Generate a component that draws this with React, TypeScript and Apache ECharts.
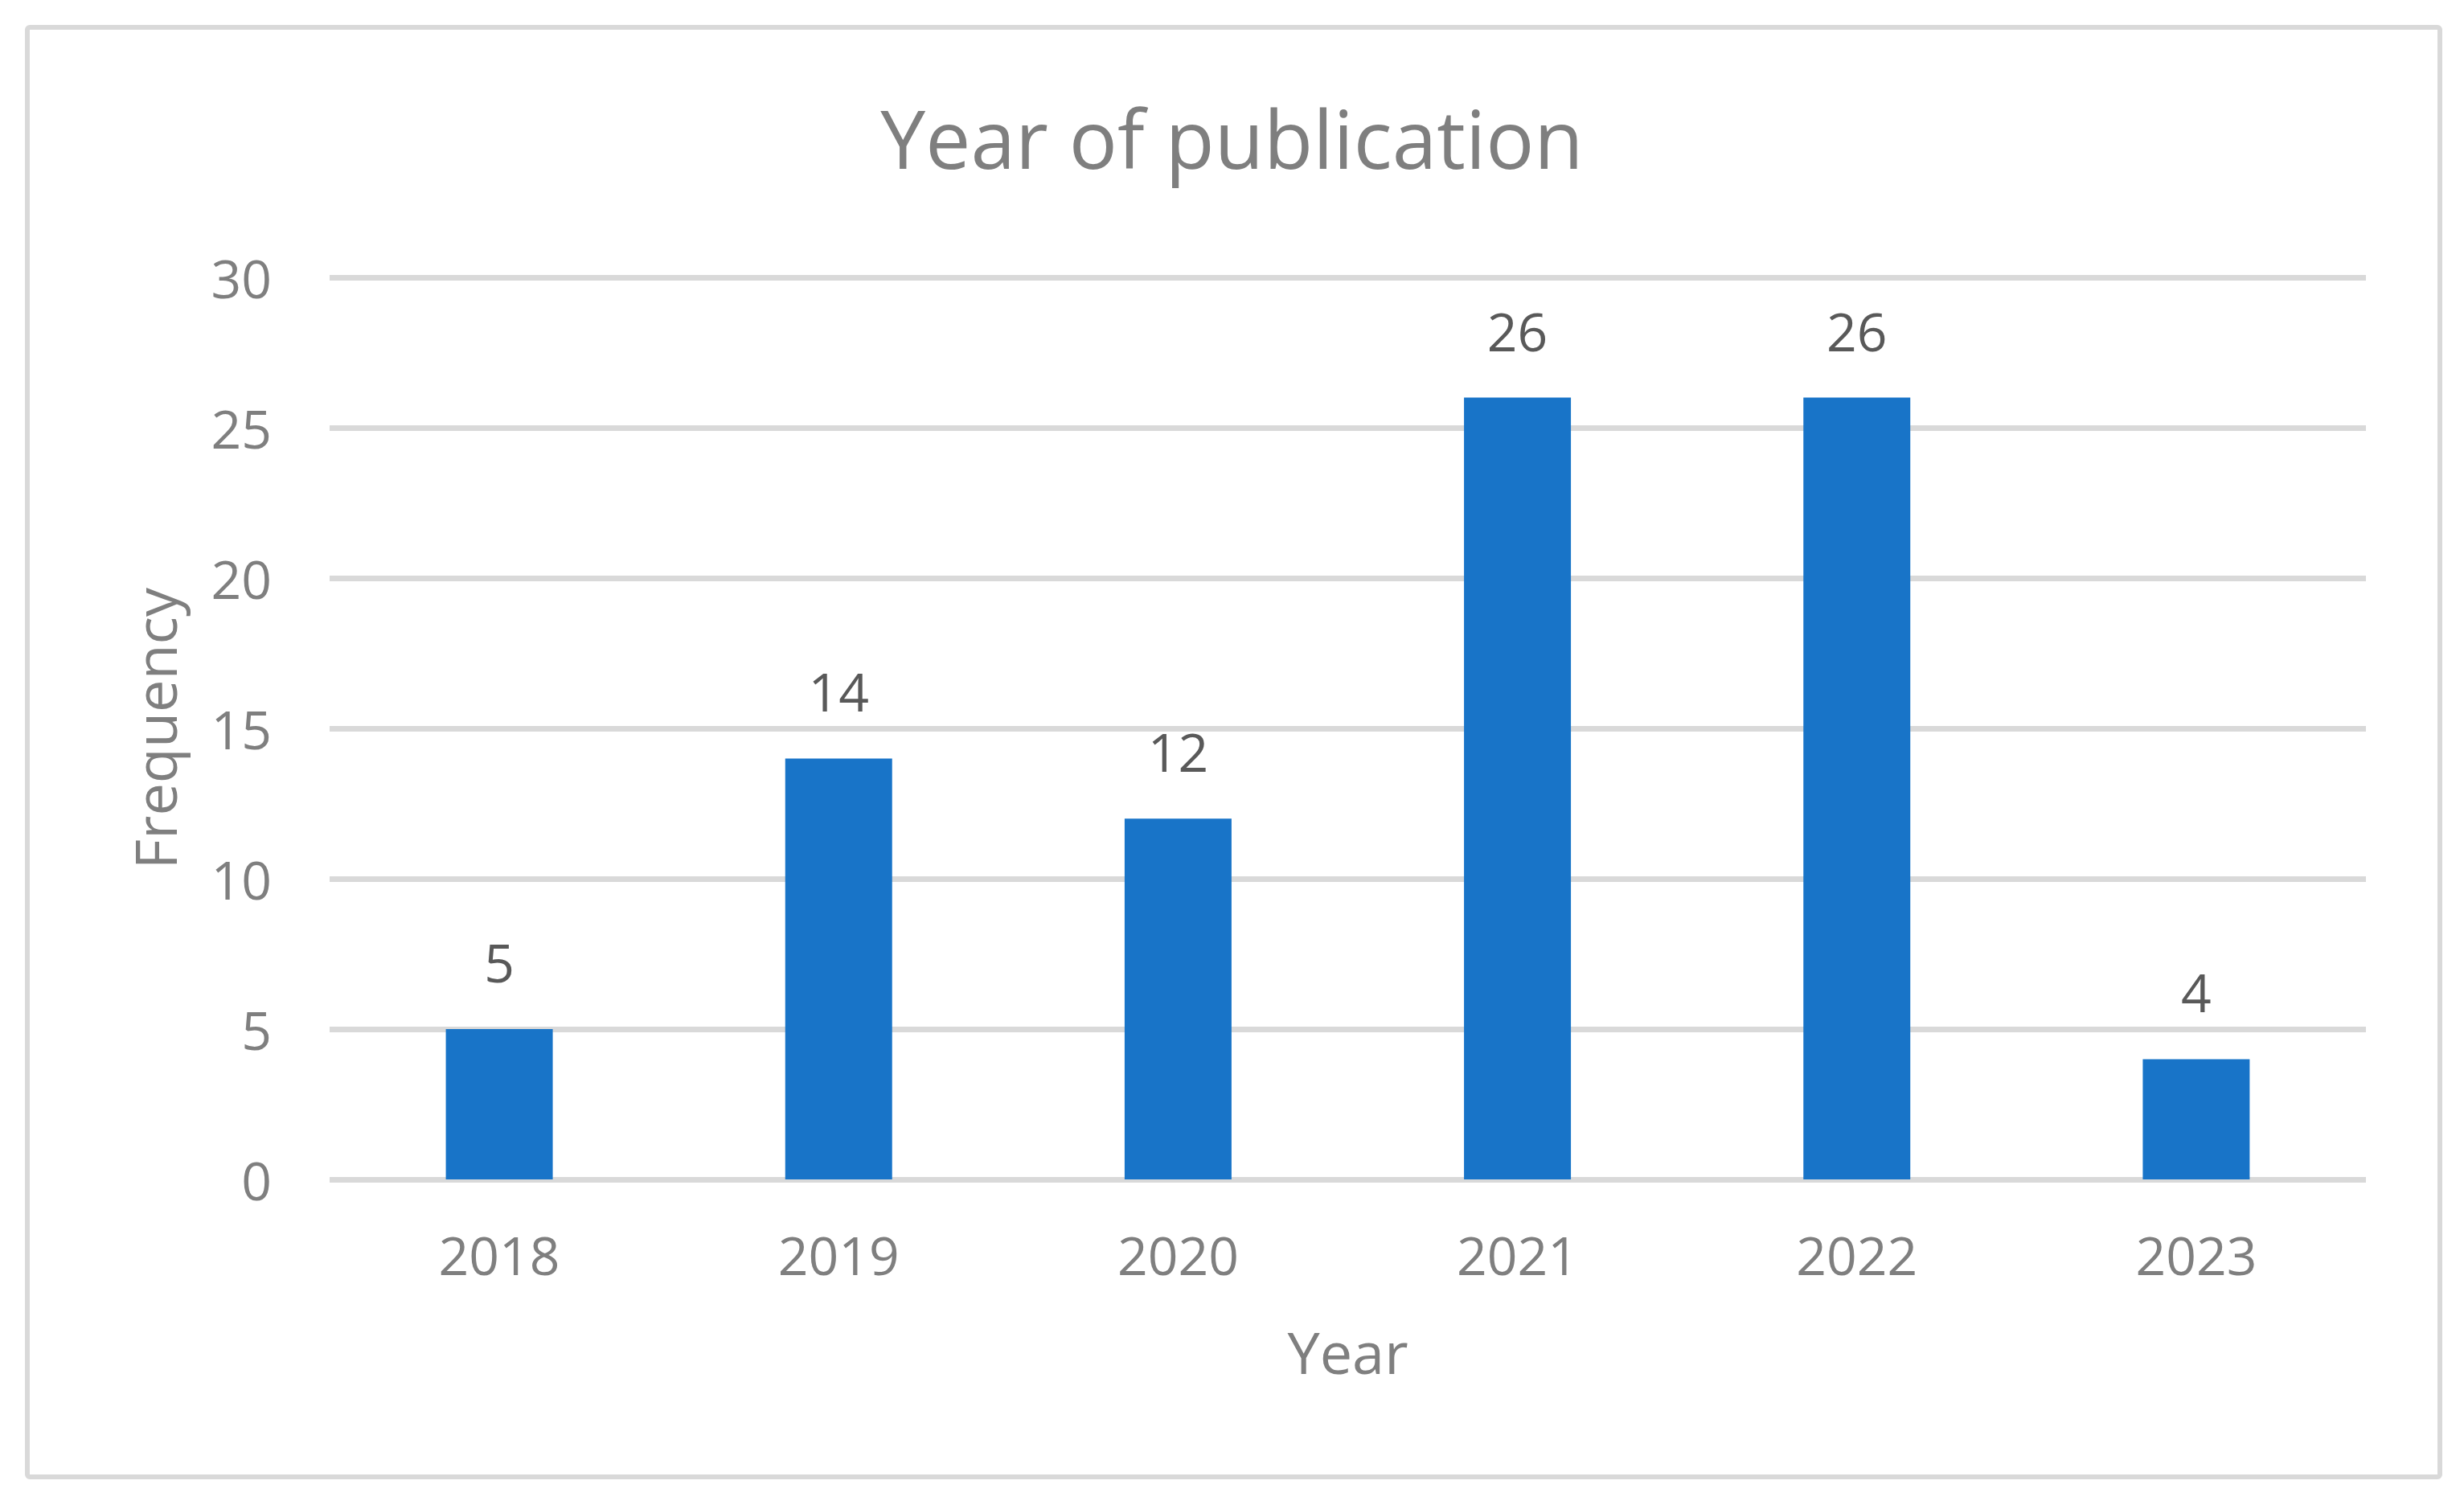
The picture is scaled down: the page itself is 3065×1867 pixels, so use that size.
import React, { useEffect, useRef } from "react";
import * as echarts from "echarts";

const years: string[] = ["2018", "2019", "2020", "2021", "2022", "2023"];
const frequency: number[] = [5, 14, 12, 26, 26, 4];
const yTicks = { min: 0, max: 30, interval: 5 };
const chartTitle = "Year of publication";
const xAxisTitle = "Year";
const yAxisTitle = "Frequency";

const FONT = "'Open Sans', 'Liberation Sans', sans-serif";

export default function App() {
  const ref = useRef<HTMLDivElement>(null);

  useEffect(() => {
    if (!ref.current) return;
    const chart = echarts.init(ref.current, undefined, { renderer: "svg" });
    chart.setOption({
      animation: false,
      backgroundColor: "#ffffff",
      title: {
        text: chartTitle,
        left: "center",
        top: 116,
        textStyle: {
          fontFamily: FONT,
          fontSize: 100,
          fontWeight: "normal",
          color: "#7f7f7f",
        },
      },
      graphic: [
        {
          type: "rect",
          shape: { x: 34, y: 34, width: 3001, height: 1803, r: 3 },
          style: { fill: "none", stroke: "#d9d9d9", lineWidth: 6 },
          silent: true,
          z: 0,
        },
      ],
      grid: {
        left: 410,
        right: 122,
        top: 345,
        bottom: 400,
        containLabel: false,
      },
      xAxis: {
        type: "category",
        data: years,
        axisLine: { show: false },
        axisTick: { show: false },
        axisLabel: {
          fontFamily: FONT,
          fontSize: 66,
          color: "#7f7f7f",
          margin: 60,
        },
        name: xAxisTitle,
        nameLocation: "middle",
        nameGap: 178,
        nameTextStyle: {
          fontFamily: FONT,
          fontSize: 72,
          color: "#7f7f7f",
        },
      },
      yAxis: {
        type: "value",
        min: yTicks.min,
        max: yTicks.max,
        interval: yTicks.interval,
        axisLine: { show: false },
        axisTick: { show: false },
        splitLine: { lineStyle: { color: "#d9d9d9", width: 7 } },
        axisLabel: {
          fontFamily: FONT,
          fontSize: 66,
          color: "#7f7f7f",
          margin: 72,
        },
        name: yAxisTitle,
        nameLocation: "middle",
        nameGap: 182,
        nameRotate: 90,
        nameTextStyle: {
          fontFamily: FONT,
          fontSize: 72,
          color: "#7f7f7f",
        },
      },
      series: [
        {
          type: "bar",
          data: frequency,
          barWidth: "31.5%",
          itemStyle: { color: "#1874c8" },
          label: {
            show: true,
            position: "top",
            distance: 51,
            fontFamily: FONT,
            fontSize: 66,
            color: "#595959",
          },
        },
      ],
    });
    return () => chart.dispose();
  }, []);

  return (
    <div
      ref={ref}
      style={{ position: "fixed", left: 0, top: 0, width: 3065, height: 1867 }}
    />
  );
}
